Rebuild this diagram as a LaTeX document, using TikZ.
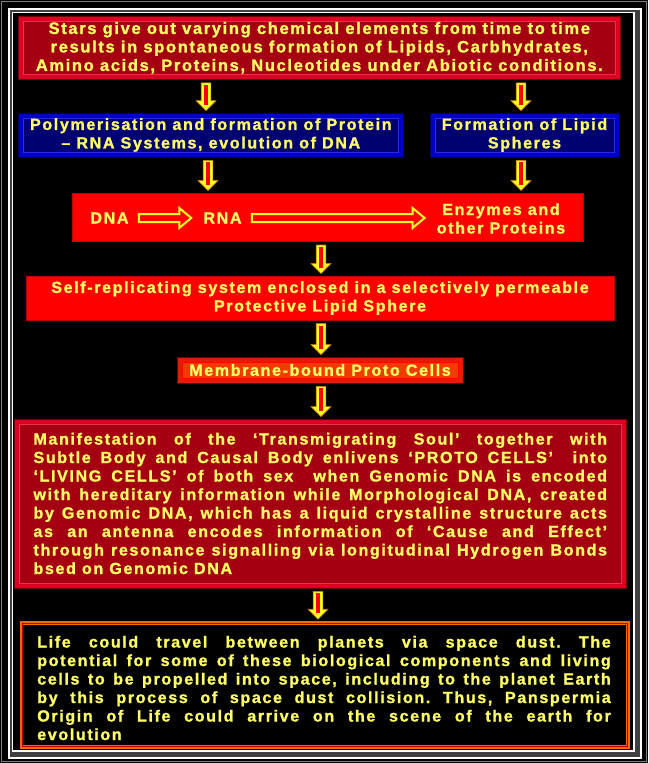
\documentclass[tikz,border=0pt]{standalone}
\usepackage{fontspec}
\setmainfont{Liberation Sans}[LetterSpace=10,BoldFeatures={FakeBold=1.2}]
\usetikzlibrary{calc}
\frenchspacing
\definecolor{ytxt}{RGB}{255,255,102}
\definecolor{ayel}{RGB}{255,255,40}
\definecolor{aedge}{RGB}{200,120,0}
\definecolor{mainred}{RGB}{165,0,18}
\definecolor{bevred}{RGB}{222,0,34}
\definecolor{edgered}{RGB}{110,0,0}
\definecolor{hired}{RGB}{240,50,70}
\definecolor{mainblue}{RGB}{0,0,115}
\definecolor{bevblue}{RGB}{0,0,205}
\definecolor{edgeblue}{RGB}{0,0,80}
\definecolor{hiblue}{RGB}{40,40,230}
\definecolor{brightred}{RGB}{255,0,0}
\definecolor{dkred}{RGB}{190,0,0}
\definecolor{memmain}{RGB}{240,60,0}
\definecolor{membev}{RGB}{228,28,0}
\definecolor{lifeorange}{RGB}{255,102,0}
\newlength\jlw
\setlength\jlw{573.5pt}
\newcommand\jline[1]{\makebox[\jlw][s]{#1}}
\newcommand\lline[1]{\makebox[\jlw][l]{#1}}
\newcommand\varrow[3]{%
  \filldraw[fill=ayel, draw=aedge, line width=0.6pt] let \p1=(#2.south), \p2=(#3.north) in
    (#1pt-4.8pt,\y1-3pt) -- (#1pt+4.8pt,\y1-3pt) -- (#1pt+4.8pt,\y2+12pt) -- (#1pt+10pt,\y2+12pt)
    -- (#1pt,\y2+2pt) -- (#1pt-10pt,\y2+12pt) -- (#1pt-4.8pt,\y2+12pt) -- cycle;
  \fill[brightred] let \p1=(#2.south), \p2=(#3.north) in
    (#1pt-1.8pt,\y1-5pt) rectangle (#1pt+1.8pt,\y2+8pt);}
\newcommand\harrow[2]{%
  \filldraw[fill=brightred, draw=ayel, line width=2pt, line join=miter] let \p1=(#1.east), \p2=(#2.west) in
    (\x1+10pt,\y1+4pt) -- (\x2-24pt,\y1+4pt) -- (\x2-24pt,\y1+10pt) -- (\x2-12pt,\y1)
    -- (\x2-24pt,\y1-10pt) -- (\x2-24pt,\y1-4pt) -- (\x1+10pt,\y1-4pt) -- cycle;}
\tikzset{
  box/.style={rectangle, inner sep=0pt, align=center},
  bevel/.style n args={4}{box, fill=#1, draw=#3, line width=0.8pt,
    path picture={\filldraw[fill=#2, draw=#4, line width=0.6pt]
      ([shift={(5pt,-5pt)}]path picture bounding box.north west) rectangle
      ([shift={(-5pt,5pt)}]path picture bounding box.south east);}},
  redbevel/.style={bevel={bevred}{mainred}{edgered}{hired}},
  bluebevel/.style={bevel={bevblue}{mainblue}{edgeblue}{hiblue}},
  flatred/.style={box, fill=brightred, draw=dkred, line width=1pt},
  membox/.style={bevel={membev}{memmain}{edgered}{brightred}},
  lifebox/.style={box, fill=black, draw=lifeorange, line width=3.5pt},
  bigtxt/.style={font=\bfseries\fontsize{16.5}{18.5}\selectfont},
}
\begin{document}
\begin{tikzpicture}[x=1pt, y=-1pt,
  every node/.style={font=\bfseries\fontsize{16.1}{18.5}\selectfont, text=ytxt, inner sep=0pt}]
\useasboundingbox (0,0) rectangle (648,763);
\fill[black] (0,0) rectangle (648,763);
\draw[gray, line width=1pt] (1.5,1.5) rectangle (646.5,761.5);
\fill[black!75!white, even odd rule] (9.6,9.6) rectangle (640.4,757.4) (11.9,11.9) rectangle (634.6,751.6);
\draw[white, line width=1.3pt] (9,9) rectangle (641,758);
\draw[white, line width=1.3pt] (12.5,12.5) rectangle (634,751);

\node[redbevel, bigtxt, minimum width=601.4pt, minimum height=63.5pt] (stars) at (319.3,47.75)
  {Stars give out varying chemical elements from time to time\\
   results in spontaneous formation of Lipids, Carbhydrates,\\
   Amino acids, Proteins, Nucleotides under Abiotic conditions.};

\node[bluebevel, minimum width=384.4pt, minimum height=44pt] (poly) at (210.8,135)
  {Polymerisation and formation of Protein\\ – RNA Systems, evolution of DNA};
\node[bluebevel, minimum width=189pt, minimum height=44pt] (lipid) at (524.5,135)
  {Formation of Lipid\\ Spheres};

\node[flatred, minimum width=511pt, minimum height=48.5pt] (dnabox) at (327.5,217.25) {};
\node (dna) at (109.5,218) {DNA};
\node (rna) at (222.5,218) {RNA};
\node[align=center] (enz) at (501,218.5) {Enzymes and\\ other Proteins};

\node[flatred, minimum width=588pt, minimum height=44pt] (selfrep) at (320,298)
  {Self-replicating system enclosed in a selectively permeable\\ Protective Lipid Sphere};

\node[membox, minimum width=286pt, minimum height=26pt] (membrane) at (320,370)
  {Membrane-bound Proto Cells};

\node[redbevel, minimum width=611.5pt, minimum height=169pt] (manif) at (320.25,503.5)
  {\jline{Manifestation of the ‘Transmigrating Soul’ together with}\\
   \jline{Subtle Body and Causal Body enlivens ‘PROTO CELLS’\ \ into}\\
   \jline{‘LIVING CELLS’ of both sex\ \ when Genomic DNA is encoded}\\
   \jline{with hereditary information while Morphological DNA, created}\\
   \jline{by Genomic DNA, which has a liquid crystalline structure acts}\\
   \jline{as an antenna encodes information of ‘Cause and Effect’}\\
   \jline{through resonance signalling via longitudinal Hydrogen Bonds}\\
   \lline{bsed on Genomic DNA}};

\node[lifebox, minimum width=606.5pt, minimum height=124pt] (life) at (324.75,685) {};
\draw[dkred, line width=0.8pt] ([shift={(2.5pt,-2.5pt)}]life.north west) rectangle ([shift={(-2.5pt,2.5pt)}]life.south east);
\node[align=center] (lifetxt) at (324,688)
  {\jline{Life could travel between planets via space dust. The}\\
   \jline{potential for some of these biological components and living}\\
   \jline{cells to be propelled into space, including to the planet Earth}\\
   \jline{by this process of space dust collision. Thus, Panspermia}\\
   \jline{Origin of Life could arrive on the scene of the earth for}\\
   \lline{evolution}};

\varrow{206}{stars}{poly}
\varrow{521}{stars}{lipid}
\varrow{208}{poly}{dnabox}
\varrow{521}{lipid}{dnabox}
\varrow{321}{dnabox}{selfrep}
\varrow{321}{selfrep}{membrane}
\varrow{321}{membrane}{manif}
\varrow{318}{manif}{life}
\harrow{dna}{rna}
\harrow{rna}{enz}
\end{tikzpicture}
\end{document}
